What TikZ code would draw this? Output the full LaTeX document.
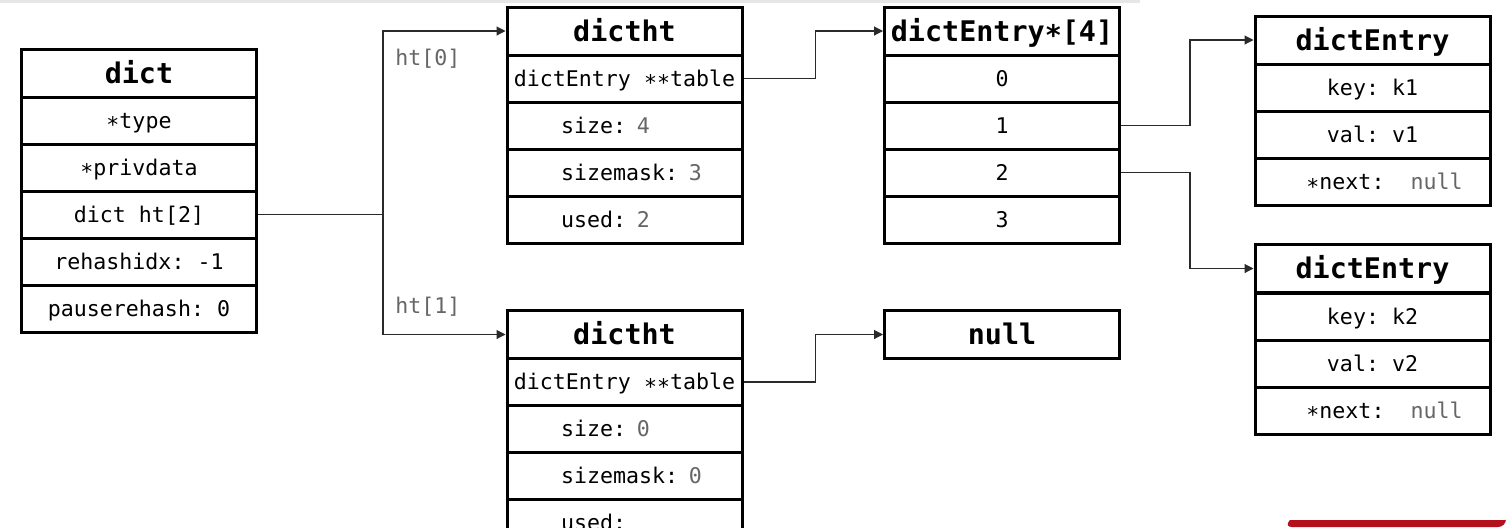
\documentclass[tikz,border=0pt]{standalone}
\usepackage{fontspec}
\setmonofont{DejaVu Sans Mono}
\usetikzlibrary{arrows.meta}
\definecolor{val}{HTML}{666666}
\definecolor{wire}{HTML}{2A2A2A}
\definecolor{topbar}{HTML}{E6E6E6}
\definecolor{redbar}{HTML}{B3111E}
\newcommand\lowstar{\raisebox{-2.2pt}{*}}
\begin{document}
\begin{tikzpicture}[x=0.5pt,y=-0.5pt,
  cell/.style={draw=black, line width=1.5pt, minimum width=117.5pt, minimum height=23.5pt,
    inner sep=0pt, text height=7.9pt, text depth=0pt,
    font=\ttfamily\fontsize{10.8pt}{12pt}\selectfont},
  head/.style={cell, minimum height=24pt, text height=10.4pt, text depth=0pt,
    font=\ttfamily\bfseries\fontsize{14.2pt}{16pt}\selectfont},
  lcell/.style={cell, text width=117.5pt, align=left},
  wireline/.style={draw=wire, line width=0.55pt},
  arr/.style={wireline, -{Triangle[length=4.5pt,width=4.5pt]}},
  lbl/.style={font=\ttfamily\fontsize{10.8pt}{12pt}\selectfont, text=val, inner sep=0pt}
]
\useasboundingbox (0,0) rectangle (1506,527);
\clip (0,0) rectangle (1506,527);
\fill[white] (0,0) rectangle (1506,527);
\fill[topbar] (0,0) rectangle (1140,3);
\fill[redbar] (1290,520) [rounded corners=4pt] -- (1284,527) -- (1506,527) [sharp corners] -- (1506,520) -- cycle;

% dict
\node[head] (dict) at (139,73) {dict};
\node[cell] (dtype) at (139,120.5) {\lowstar type};
\node[cell] (dpriv) at (139,167.5) {\lowstar privdata};
\node[cell] (dht) at (139,214.5) {dict ht[2]};
\node[cell] (dre) at (139,261.5) {rehashidx: -1};
\node[cell] (dpau) at (139,308.5) {pauserehash: 0};

% dictht 0
\node[head] (h0) at (624.5,31) {dictht};
\node[cell] (h0tab) at (624.5,78.5) {dictEntry \lowstar\lowstar table};
\node[lcell] (h0size) at (624.5,125.5) {\hspace*{27pt}size: \textcolor{val}{4}};
\node[lcell] (h0mask) at (624.5,172.5) {\hspace*{27pt}sizemask: \textcolor{val}{3}};
\node[lcell] (h0used) at (624.5,219.5) {\hspace*{27pt}used: \textcolor{val}{2}};

% dictht 1
\node[head] (h1) at (624.5,334.5) {dictht};
\node[cell] (h1tab) at (624.5,382) {dictEntry \lowstar\lowstar table};
\node[lcell] (h1size) at (624.5,429) {\hspace*{27pt}size: \textcolor{val}{0}};
\node[lcell] (h1mask) at (624.5,476) {\hspace*{27pt}sizemask: \textcolor{val}{0}};
\node[lcell] (h1used) at (624.5,523) {\hspace*{27pt}used:};

% bucket array
\node[head] (arrh) at (1002,31) {dictEntry\lowstar[4]};
\node[cell] (b0) at (1002,78.5) {0};
\node[cell] (b1) at (1002,125.5) {1};
\node[cell] (b2) at (1002,172.5) {2};
\node[cell] (b3) at (1002,219.5) {3};

% null
\node[head] (nul) at (1002,334.5) {null};

% dictEntry 1
\node[head] (e1) at (1372.5,40) {dictEntry};
\node[cell] (e1k) at (1372.5,88) {key: k1};
\node[cell] (e1v) at (1372.5,135) {val: v1};
\node[cell] (e1n) at (1372.5,182) {\hspace*{12pt}\lowstar next:\ \ \textcolor{val}{null}};

% dictEntry 2
\node[head] (e2) at (1372.5,268.5) {dictEntry};
\node[cell] (e2k) at (1372.5,316.5) {key: k2};
\node[cell] (e2v) at (1372.5,363.5) {val: v2};
\node[cell] (e2n) at (1372.5,410.5) {\hspace*{12pt}\lowstar next:\ \ \textcolor{val}{null}};

% connectors
\coordinate (split) at (383,214.5);
\draw[wireline] (dht.east) -- (split);
\draw[arr] (split) |- (h0.west);
\draw[arr] (split) |- (h1.west);
\node[lbl, anchor=west] (l0) at (395,59) {ht[0]};
\node[lbl, anchor=west] (l1) at (395,307) {ht[1]};

\draw[arr] (h0tab.east) -- ++(72,0) |- (arrh.west);
\draw[arr] (h1tab.east) -- ++(72,0) |- (nul.west);
\draw[arr] (b1.east) -- ++(69,0) |- (e1.west);
\draw[arr] (b2.east) -- ++(69,0) |- (e2.west);
\end{tikzpicture}
\end{document}
